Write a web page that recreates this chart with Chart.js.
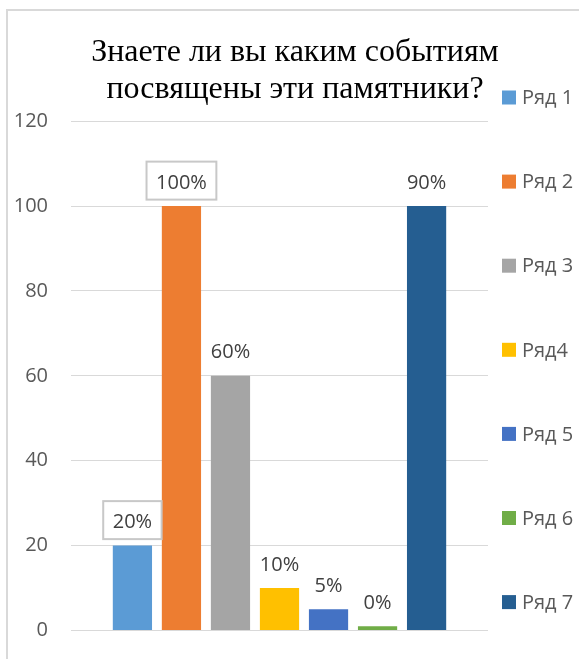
<!DOCTYPE html>
<html>
<head>
<meta charset="utf-8">
<script src="https://cdn.jsdelivr.net/npm/chart.js@4.4.1/dist/chart.umd.min.js"></script>
<style>
  html, body { margin: 0; padding: 0; background: #fff; overflow: hidden; }
  #frame { position: absolute; left: 6px; top: 9px; width: 700px; height: 800px; border: 2px solid #d9d9d9; }
  #myChart { position: absolute; left: 0; top: 0; }
</style>
</head>
<body>
<div id="frame"></div>
<canvas id="myChart" width="579" height="659"></canvas>
<script>
const seriesNames = ['Ряд 1', 'Ряд 2', 'Ряд 3', 'Ряд4', 'Ряд 5', 'Ряд 6', 'Ряд 7']
const seriesValues = [20, 100, 60, 10, 5, 1, 100]
const pointLabels = ['20%', '100%', '60%', '10%', '5%', '0%', '90%']
const yTicks = [0, 20, 40, 60, 80, 100, 120]

const colors = ['#5B9BD5', '#ED7D31', '#A5A5A5', '#FFC000', '#4472C4', '#70AD47', '#255E91']
const boxed = [true, true, false, false, false, false, false]
const sansFont = "'Open Sans', 'Liberation Sans', sans-serif"

// value labels above each bar, two of them in a grey box
const barLabels = {
  id: 'barLabels',
  afterDatasetsDraw(chart) {
    const c = chart.ctx
    c.save()
    c.font = '20px ' + sansFont
    c.textAlign = 'center'
    c.textBaseline = 'alphabetic'
    chart.data.datasets.forEach((ds, i) => {
      const bar = chart.getDatasetMeta(i).data[0]
      const txt = pointLabels[i]
      const y = bar.y - 17.5
      if (boxed[i]) {
        const w = c.measureText(txt).width + 19
        c.fillStyle = '#fff'
        c.fillRect(bar.x - w / 2, y - 27, w, 38)
        c.strokeStyle = '#c8c8c8'
        c.lineWidth = 2
        c.strokeRect(bar.x - w / 2, y - 27, w, 38)
      }
      c.fillStyle = '#404040'
      c.fillText(txt, bar.x, y)
    })
    c.restore()
  }
}

// legend on the right, spread over the full height
const sideLegend = {
  id: 'sideLegend',
  afterDraw(chart) {
    const c = chart.ctx
    c.save()
    c.font = '20px ' + sansFont
    c.textBaseline = 'middle'
    c.textAlign = 'left'
    chart.data.datasets.forEach((ds, i) => {
      const y = 97.5 + i * 84.1
      c.fillStyle = ds.backgroundColor
      c.fillRect(502, y - 7, 14, 14)
      c.fillStyle = '#595959'
      c.fillText(ds.label, 522, y + 1)
    })
    c.restore()
  }
}

const ctx = document.getElementById('myChart')

const mychart = new Chart(ctx, {
  type: 'bar',
  data: {
    labels: [''],
    datasets: seriesNames.map((name, i) => ({
      label: name,
      data: [seriesValues[i]],
      backgroundColor: colors[i],
      categoryPercentage: 0.823,
      barPercentage: 0.8
    }))
  },
  options: {
    responsive: false,
    animation: false,
    devicePixelRatio: 1,
    layout: { padding: { left: 11, right: 0, top: 0, bottom: 28.5 } },
    plugins: {
      legend: { display: false },
      tooltip: { enabled: false },
      title: {
        display: true,
        text: ['Знаете ли вы каким событиям', 'посвящены эти памятники?'],
        color: '#000',
        font: { family: "'Liberation Serif', 'Times New Roman', serif", size: 32, weight: 'normal', lineHeight: 1.16 },
        padding: { top: 34, bottom: 13 }
      }
    },
    scales: {
      x: { display: false },
      y: {
        min: 0,
        max: 120,
        afterBuildTicks: s => { s.ticks = yTicks.map(v => ({ value: v })) },
        afterFit: s => {
          s.width = 60
          s.paddingTop = 0
          s.paddingBottom = 0
        },
        grid: { color: '#d9d9d9', lineWidth: 1, drawTicks: false },
        border: { display: false },
        ticks: { color: '#595959', padding: 23, font: { family: sansFont, size: 20 } }
      },
      yr: {
        position: 'right',
        display: true,
        afterFit: s => { s.width = 91 },
        grid: { display: false },
        border: { display: false },
        ticks: { display: false }
      }
    }
  },
  plugins: [barLabels, sideLegend]
})
</script>
</body>
</html>
